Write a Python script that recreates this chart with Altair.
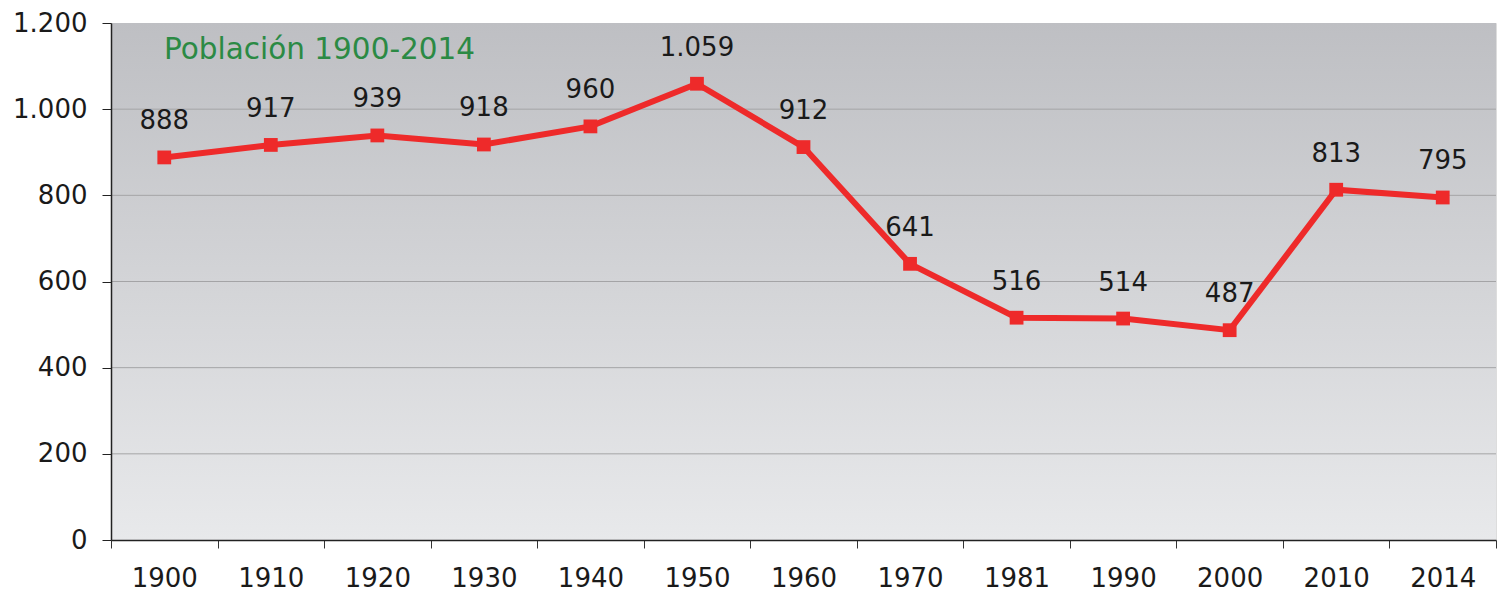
import altair as alt
import pandas as pd

years = ["1900", "1910", "1920", "1930", "1940", "1950", "1960", "1970", "1981", "1990", "2000", "2010", "2014"]
population = [888, 917, 939, 918, 960, 1059, 912, 641, 516, 514, 487, 813, 795]
title_text = "Población 1900-2014"
y_ticks = [0, 200, 400, 600, 800, 1000, 1200]
grid_values = [200, 400, 600, 800, 1000]


def es_fmt(v):
    return f"{v:,}".replace(",", ".")


df = pd.DataFrame({
    "year": years,
    "pop": population,
    "label": [es_fmt(v) for v in population],
})
title_df = pd.DataFrame({"t": [title_text]})
grid_df = pd.DataFrame({"g": grid_values})

W = 1385
H = 517
FONT = "DejaVu Sans"
FS = 26

x_enc = alt.X(
    "year:N",
    sort=years,
    scale=alt.Scale(type="band", paddingInner=0, paddingOuter=0),
    axis=alt.Axis(
        title=None,
        labelAngle=0,
        labelFontSize=FS,
        labelFont=FONT,
        labelColor="#1a1a1a",
        labelPadding=17,
        tickBand="extent",
        tickSize=8,
        tickColor="#333333",
        domainColor="#222222",
        domainWidth=1.5,
        grid=False,
        zindex=1,
    ),
)
y_enc = alt.Y(
    "pop:Q",
    scale=alt.Scale(domain=[0, 1200], nice=False, zero=True),
    axis=alt.Axis(
        title=None,
        values=y_ticks,
        labelExpr="replace(format(datum.value, ','), ',', '.')",
        labelFontSize=FS,
        labelFont=FONT,
        labelColor="#1a1a1a",
        labelPadding=15,
        tickSize=9,
        tickColor="#222222",
        domainColor="#222222",
        domainWidth=1.5,
        grid=False,
        zindex=1,
    ),
)

gradient = alt.LinearGradient(
    gradient="linear",
    stops=[
        alt.GradientStop(color="#bebfc3", offset=0),
        alt.GradientStop(color="#e8e9eb", offset=1),
    ],
    x1=0, x2=0, y1=0, y2=1,
)

bg = alt.Chart(title_df).mark_rect(color=gradient).encode(
    x=alt.value(0), x2=alt.value("width"), y=alt.value(0), y2=alt.value("height")
)
grid = alt.Chart(grid_df).mark_rule(color="#a4a4a6", strokeWidth=1).encode(
    y=alt.Y("g:Q", scale=alt.Scale(domain=[0, 1200], nice=False, zero=True))
)

base = alt.Chart(df)
line = base.mark_line(color="#ee2a2a", strokeWidth=6).encode(x=x_enc, y=y_enc)
points = base.mark_point(shape="square", filled=True, size=190, color="#ee2a2a", opacity=1).encode(
    x=alt.X("year:N", sort=years), y="pop:Q"
)
labels = base.mark_text(dy=-36, fontSize=FS, font=FONT, color="#1a1a1a", baseline="middle").encode(
    x=alt.X("year:N", sort=years), y="pop:Q", text="label:N"
)
title = alt.Chart(title_df).mark_text(
    align="left", baseline="middle", fontSize=29.5, font=FONT, color="#2b8a44"
).encode(x=alt.value(53), y=alt.value(27), text="t:N")

chart = (
    alt.layer(bg, grid, line, points, labels, title)
    .properties(width=W, height=H, padding={"left": 4, "top": 2, "right": 0, "bottom": 0})
    .configure_view(stroke=None)
    .configure(background="white")
)

chart.save("out.html", embed_options={"renderer": "svg", "actions": False})
